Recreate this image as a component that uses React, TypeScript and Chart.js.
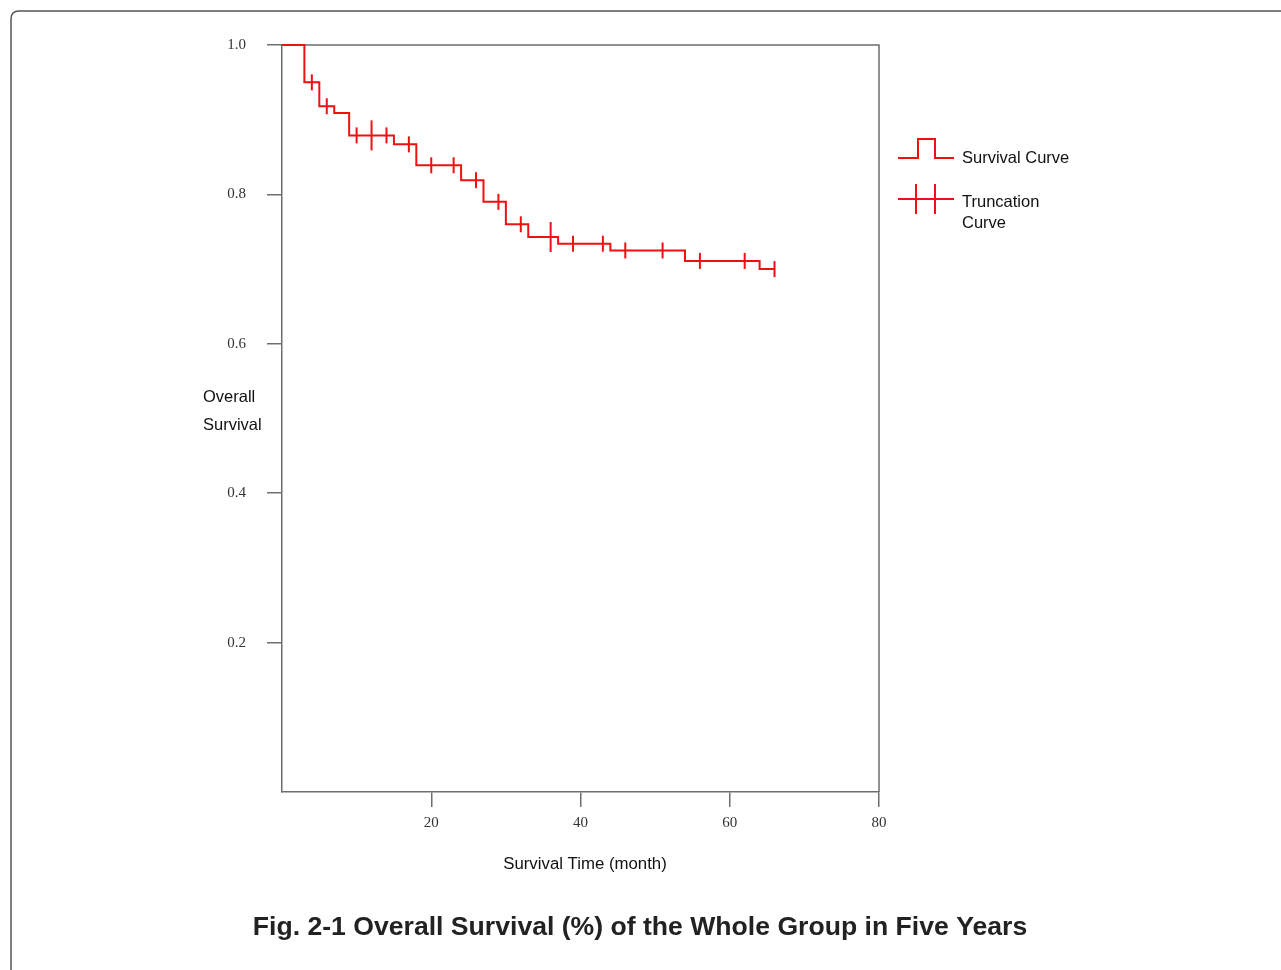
import React, { useEffect, useRef } from 'react';
import { Chart, registerables } from 'chart.js';

Chart.register(...registerables);

// Kaplan-Meier step points (month, survival)
const eventTimes = [0, 3, 5, 7, 9, 15, 18, 24, 27, 30, 33, 37, 44, 54, 64, 66];
const survival = [1, 0.95, 0.918, 0.909, 0.879, 0.867, 0.839, 0.819, 0.79, 0.76, 0.743, 0.734, 0.725, 0.711, 0.7, 0.7];

// Censored (truncation) marks
const censorTimes = [4, 6, 10, 12, 14, 17, 20, 23, 26, 29, 32, 36, 39, 43, 46, 51, 56, 62, 66];
const censorSurvival = [0.95, 0.918, 0.879, 0.879, 0.879, 0.867, 0.839, 0.839, 0.819, 0.79, 0.76, 0.743, 0.734, 0.734, 0.725, 0.725, 0.711, 0.711, 0.7];
const censorCounts = [1, 1, 1, 2, 1, 1, 1, 1, 1, 1, 1, 2, 1, 1, 1, 1, 1, 1, 1];

const xTickValues = [20, 40, 60, 80];
const yTickValues = [0.2, 0.4, 0.6, 0.8, 1.0];

const titleText = 'Fig. 2-1 Overall Survival (%) of the Whole Group in Five Years';
const xTitle = 'Survival Time (month)';
const yTitleLines = ['Overall', 'Survival'];
const legendSurvival = 'Survival Curve';
const legendTruncation = ['Truncation', 'Curve'];

const RED = '#f01010';
const AXIS = '#6e6e6e';
const SANS = '"Liberation Sans", Arial, sans-serif';
const SERIF = '"Liberation Serif", "Times New Roman", serif';

const decorPlugin = {
  id: 'decor',
  beforeDatasetsDraw(chart: any) {
    const { ctx, chartArea } = chart;
    ctx.save();
    ctx.strokeStyle = AXIS;
    ctx.lineWidth = 1.5;
    ctx.beginPath();
    ctx.moveTo(chartArea.left, chartArea.top);
    ctx.lineTo(chartArea.right, chartArea.top);
    ctx.lineTo(chartArea.right, chartArea.bottom);
    ctx.stroke();
    ctx.restore();
  },
  afterDraw(chart: any) {
    const { ctx, chartArea } = chart;
    ctx.save();
    // outer rounded frame
    ctx.strokeStyle = '#555';
    ctx.lineWidth = 1.5;
    const x0 = 11, y0 = 11, r = 8;
    ctx.beginPath();
    ctx.moveTo(x0, 1000);
    ctx.lineTo(x0, y0 + r);
    ctx.quadraticCurveTo(x0, y0, x0 + r, y0);
    ctx.lineTo(1300, y0);
    ctx.stroke();

    // axis titles
    ctx.fillStyle = '#111';
    ctx.font = `16.5px ${SANS}`;
    ctx.textBaseline = 'middle';
    ctx.textAlign = 'left';
    ctx.fillText(yTitleLines[0], 203, 397);
    ctx.fillText(yTitleLines[1], 203, 425);
    ctx.textAlign = 'center';
    ctx.font = `16.8px ${SANS}`;
    ctx.fillText(xTitle, 585, 864);
    ctx.font = `16.5px ${SANS}`;

    // legend
    ctx.strokeStyle = RED;
    ctx.lineWidth = 2;
    ctx.beginPath();
    ctx.moveTo(898, 158);
    ctx.lineTo(918, 158);
    ctx.lineTo(918, 139);
    ctx.lineTo(935, 139);
    ctx.lineTo(935, 158);
    ctx.lineTo(954, 158);
    ctx.stroke();
    ctx.beginPath();
    ctx.moveTo(898, 199);
    ctx.lineTo(954, 199);
    ctx.moveTo(916, 184);
    ctx.lineTo(916, 214);
    ctx.moveTo(935, 184);
    ctx.lineTo(935, 214);
    ctx.stroke();
    ctx.textAlign = 'left';
    ctx.fillText(legendSurvival, 962, 158);
    ctx.fillText(legendTruncation[0], 962, 202);
    ctx.fillText(legendTruncation[1], 962, 223);

    // figure title
    ctx.font = `bold 26.6px ${SANS}`;
    ctx.fillStyle = '#222';
    ctx.textAlign = 'center';
    ctx.fillText(titleText, 640, 928);
    ctx.restore();
  },
};

export default function App() {
  const canvasRef = useRef<HTMLCanvasElement | null>(null);

  useEffect(() => {
    if (!canvasRef.current) return;
    const gridColor = (c: any) => (c.tick && c.tick.value === 0 ? 'rgba(0,0,0,0)' : AXIS);
    const chart = new Chart(canvasRef.current, {
      type: 'scatter',
      data: {
        datasets: [
          {
            label: 'Survival Curve',
            data: eventTimes.map((t, i) => ({ x: t, y: survival[i] })),
            showLine: true,
            stepped: 'before',
            borderColor: RED,
            borderWidth: 2,
            pointRadius: 0,
            fill: false,
            clip: false,
          } as any,
          {
            label: 'Truncation Curve',
            data: censorTimes.map((t, i) => ({ x: t, y: censorSurvival[i] })),
            showLine: false,
            pointStyle: 'line',
            rotation: 90,
            pointRadius: censorCounts.map((c) => (c > 1 ? 15 : 8)),
            borderColor: RED,
            backgroundColor: RED,
            borderWidth: 2,
            clip: false,
          } as any,
        ],
      },
      options: {
        animation: false,
        responsive: false,
        events: [],
        layout: { padding: { left: 0, top: 45, right: 402, bottom: 0 } },
        plugins: { legend: { display: false }, tooltip: { enabled: false } },
        scales: {
          x: {
            type: 'linear',
            min: 0,
            max: 80,
            afterFit: (s: any) => {
              s.height = 178;
            },
            afterBuildTicks: (s: any) => {
              s.ticks = [0, ...xTickValues].map((v) => ({ value: v }));
            },
            ticks: {
              autoSkip: false,
              maxRotation: 0,
              padding: 7,
              color: '#333',
              font: { family: SERIF, size: 15 },
              callback: (v: any) => (v === 0 ? '' : String(v)),
            },
            grid: { drawOnChartArea: false, drawTicks: true, tickLength: 15, color: gridColor, lineWidth: 1.5 },
            border: { color: AXIS, width: 1.5 },
          },
          y: {
            type: 'linear',
            min: 0,
            max: 1,
            afterFit: (s: any) => {
              s.width = 282;
            },
            afterBuildTicks: (s: any) => {
              s.ticks = [0, ...yTickValues].map((v) => ({ value: v }));
            },
            ticks: {
              autoSkip: false,
              padding: 21,
              color: '#333',
              font: { family: SERIF, size: 15 },
              callback: (v: any) => (v === 0 ? '' : Number(v).toFixed(1)),
            },
            grid: { drawOnChartArea: false, drawTicks: true, tickLength: 15, color: gridColor, lineWidth: 1.5 },
            border: { color: AXIS, width: 1.5 },
          },
        },
      },
      plugins: [decorPlugin],
    } as any);
    return () => chart.destroy();
  }, []);

  return (
    <div style={{ position: 'absolute', left: 0, top: 0, width: 1281, height: 970, background: '#fff' }}>
      <canvas ref={canvasRef} width={1281} height={970} style={{ display: 'block' }} />
    </div>
  );
}
